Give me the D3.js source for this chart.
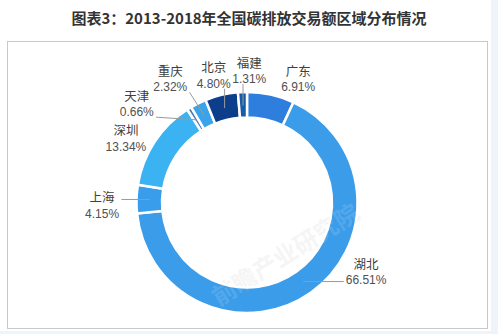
<!DOCTYPE html>
<html>
<head>
<meta charset="utf-8">
<script src="https://cdn.jsdelivr.net/npm/d3@7/dist/d3.min.js"></script>
<style>
  html, body { margin: 0; padding: 0; background: #ffffff; }
  svg { display: block; }
</style>
</head>
<body>
<svg id="chart" width="498" height="334"></svg>
<script>
// ---- data ----
const title = "图表3：2013-2018年全国碳排放交易额区域分布情况";
const regions = ["广东", "湖北", "上海", "深圳", "天津", "重庆", "北京", "福建"];
const shares = [6.91, 66.51, 4.15, 13.34, 0.66, 2.32, 4.80, 1.31];
const shareLabels = ["6.91%", "66.51%", "4.15%", "13.34%", "0.66%", "2.32%", "4.80%", "1.31%"];
const sliceColors = ["#2e7ede", "#3b9ce9", "#399deb", "#3bb2f2", "#4a7cc4", "#3ba3ea", "#0d3e8c", "#165ca6"];
const withLeader = ["湖北", "上海", "天津", "重庆", "北京", "福建"];
// label nudges (layout tweaks relative to radial placement)
const labelNudge = [[21, 13], [38, -45], [-5, 7], [-4, 12.5], [-37, 20.5], [-15, 2], [-1, 9], [8, 8]];

// ---- layout ----
const W = 498, H = 334;
const cx = 247, cy = 202.5, rOuter = 110.5, rInner = 85;
const svg = d3.select("#chart");
const font = "'Noto Sans CJK SC', 'Noto Sans', sans-serif";
const numFont = "'Liberation Sans', Arial, sans-serif";

// background frame
svg.append("rect").attr("width", W).attr("height", H).attr("fill", "#eef4fa");
svg.append("rect").attr("x", 0).attr("y", 0).attr("width", 491).attr("height", 331).attr("fill", "#ffffff");
svg.append("rect").attr("x", 7.5).attr("y", 41.5).attr("width", 480).attr("height", 287)
  .attr("fill", "#ffffff").attr("stroke", "#c9c9c9").attr("stroke-width", 1);

// title
svg.append("text").attr("x", 249).attr("y", 23.5).attr("text-anchor", "middle")
  .attr("font-family", font).attr("font-weight", "bold").attr("font-size", 15)
  .attr("fill", "#333333").text(title);

// watermark under
const wm = [
  {x: 290, y: 262, r: -32, s: 24, t: "前瞻产业研究院"}
];
const wmUnder = svg.append("g");
wm.forEach(d => wmUnder.append("text").attr("transform", `translate(${d.x},${d.y}) rotate(${d.r})`)
  .attr("text-anchor", "middle").attr("font-family", font).attr("font-weight", "bold")
  .attr("font-size", d.s).attr("fill", "#000").attr("opacity", 0.04).text(d.t));

// pie
const data = regions.map((name, i) => ({name, value: shares[i], label: shareLabels[i], color: sliceColors[i], nudge: labelNudge[i]}));
const pie = d3.pie().value(d => d.value).sort(null).startAngle(0).endAngle(2 * Math.PI);
const arcs = pie(data);
const arc = d3.arc().innerRadius(rInner).outerRadius(rOuter);
const g = svg.append("g").attr("transform", `translate(${cx},${cy})`);

g.selectAll("path.slice").data(arcs).enter().append("path")
  .attr("class", "slice")
  .attr("d", arc)
  .attr("fill", d => d.data.color)
  .attr("stroke", "#ffffff").attr("stroke-width", 2.5).attr("stroke-linejoin", "miter");

// watermark over (lightening on ring)
const wmOver = svg.append("g");
wm.forEach(d => wmOver.append("text").attr("transform", `translate(${d.x},${d.y}) rotate(${d.r})`)
  .attr("text-anchor", "middle").attr("font-family", font).attr("font-weight", "bold")
  .attr("font-size", d.s).attr("fill", "#ffffff").attr("opacity", 0.12).text(d.t));

// labels
const labelR = 140, lineR = 97;
const gap = 15.5; // baseline distance between the two lines
arcs.forEach(a => {
  const mid = (a.startAngle + a.endAngle) / 2;
  const bx = Math.sin(mid) * labelR + a.data.nudge[0];
  const by = -Math.cos(mid) * labelR + a.data.nudge[1];
  const lg = g.append("g").attr("class", "lbl");
  lg.append("text").attr("x", bx).attr("y", by - 3)
    .attr("text-anchor", "middle").attr("font-family", font)
    .attr("font-size", 12.5).attr("fill", "#404040").text(a.data.name);
  lg.append("text").attr("x", bx).attr("y", by - 3 + gap)
    .attr("text-anchor", "middle").attr("font-family", numFont)
    .attr("font-size", 12).attr("fill", "#505050").text(a.data.label);
  if (withLeader.includes(a.data.name)) {
    const b = lg.node().getBBox();
    const x0 = b.x - 2, x1 = b.x + b.width + 2;
    const y0 = b.y + 4, y1 = b.y + b.height - 2;
    const px = Math.sin(mid) * lineR, py = -Math.cos(mid) * lineR;
    const ex = Math.max(x0, Math.min(x1, px));
    const ey = Math.max(y0, Math.min(y1, py));
    g.insert("line", "g.lbl")
      .attr("x1", px).attr("y1", py).attr("x2", ex).attr("y2", ey)
      .attr("stroke", "#9a9a9a").attr("stroke-width", 1);
  }
});
</script>
</body>
</html>
